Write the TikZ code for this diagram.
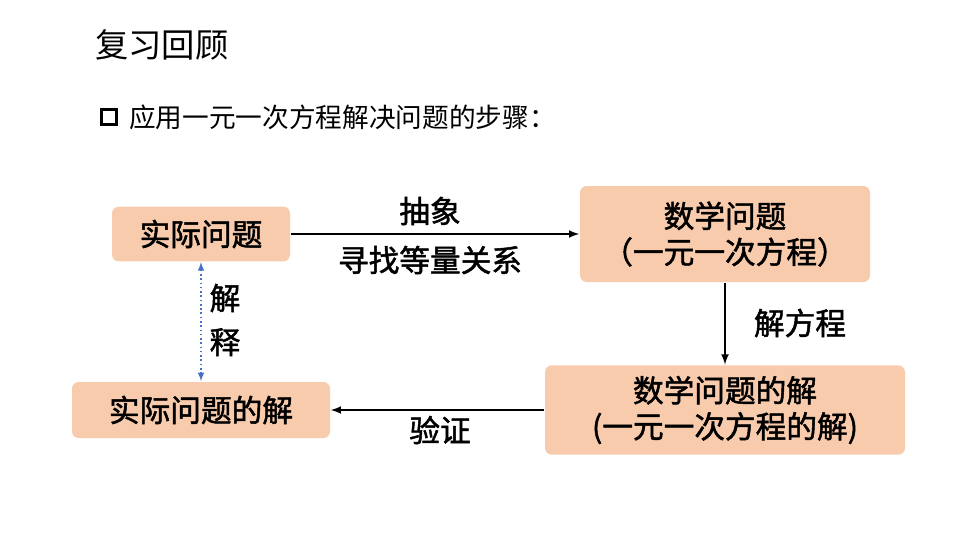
\documentclass[tikz,border=0pt]{standalone}
\usepackage{fontspec}
\setmainfont[AutoFakeBold=1.6]{Noto Sans CJK SC}
\usetikzlibrary{positioning}
\definecolor{peach}{HTML}{F8CBAD}
\definecolor{dotblue}{HTML}{4472C4}

\begin{document}
\begin{tikzpicture}[x=0.75pt, y=-0.75pt, line width=1.2pt]
    \useasboundingbox (0, 0) rectangle (960, 540);
    \tikzset{
        stepbox/.style={fill=peach, rounded corners=5pt, align=center, font=\bfseries\fontsize{23}{27}\selectfont, inner sep=0pt},
        lbl/.style={font=\bfseries\fontsize{23}{27}\selectfont, align=center},
        flow/.style={-latex, line width=1.6pt}
    }

    % heading lines
    \node[anchor=west, font=\fontsize{25}{30}\selectfont] (title) at (90, 45) {复习回顾};
    \node[draw, line width=2pt, minimum size=11pt, inner sep=0pt] (bullet) at (109, 117) {};
    \node[anchor=west, font=\fontsize{20}{24}\selectfont] (lead) at (124, 117) {应用一元一次方程解决问题的步骤：};

    % boxes
    \node[stepbox, minimum width=133.5pt, minimum height=41pt] (real) at (201, 234) {实际问题};
    \node[stepbox, minimum width=217.5pt, minimum height=72pt] (math) at (725, 234) {数学问题\\（一元一次方程）};
    \node[stepbox, minimum width=270pt, minimum height=67pt] (mathsol) at (725, 410) {数学问题的解\\(一元一次方程的解)};
    \node[stepbox, minimum width=193.5pt, minimum height=42pt] (realsol) at (201, 410) {实际问题的解};

    % connectors
    \draw[flow] (real) -- (math);
    \draw[flow] (math) -- (mathsol);
    \draw[flow] (mathsol) -- (realsol);
    \draw[latex-latex, dotblue, dotted, line width=1.2pt] (real) -- (realsol);

    % labels
    \node[lbl] (abstract) at (430, 211) {抽象};
    \node[lbl] (relation) at (430, 260) {寻找等量关系};
    \node[lbl] (solve) at (800, 323) {解方程};
    \node[lbl] (check) at (440, 430) {验证};
    \node[lbl, font=\bfseries\fontsize{23}{33}\selectfont] (explain) at (225, 320) {解\\释};
\end{tikzpicture}
\end{document}
